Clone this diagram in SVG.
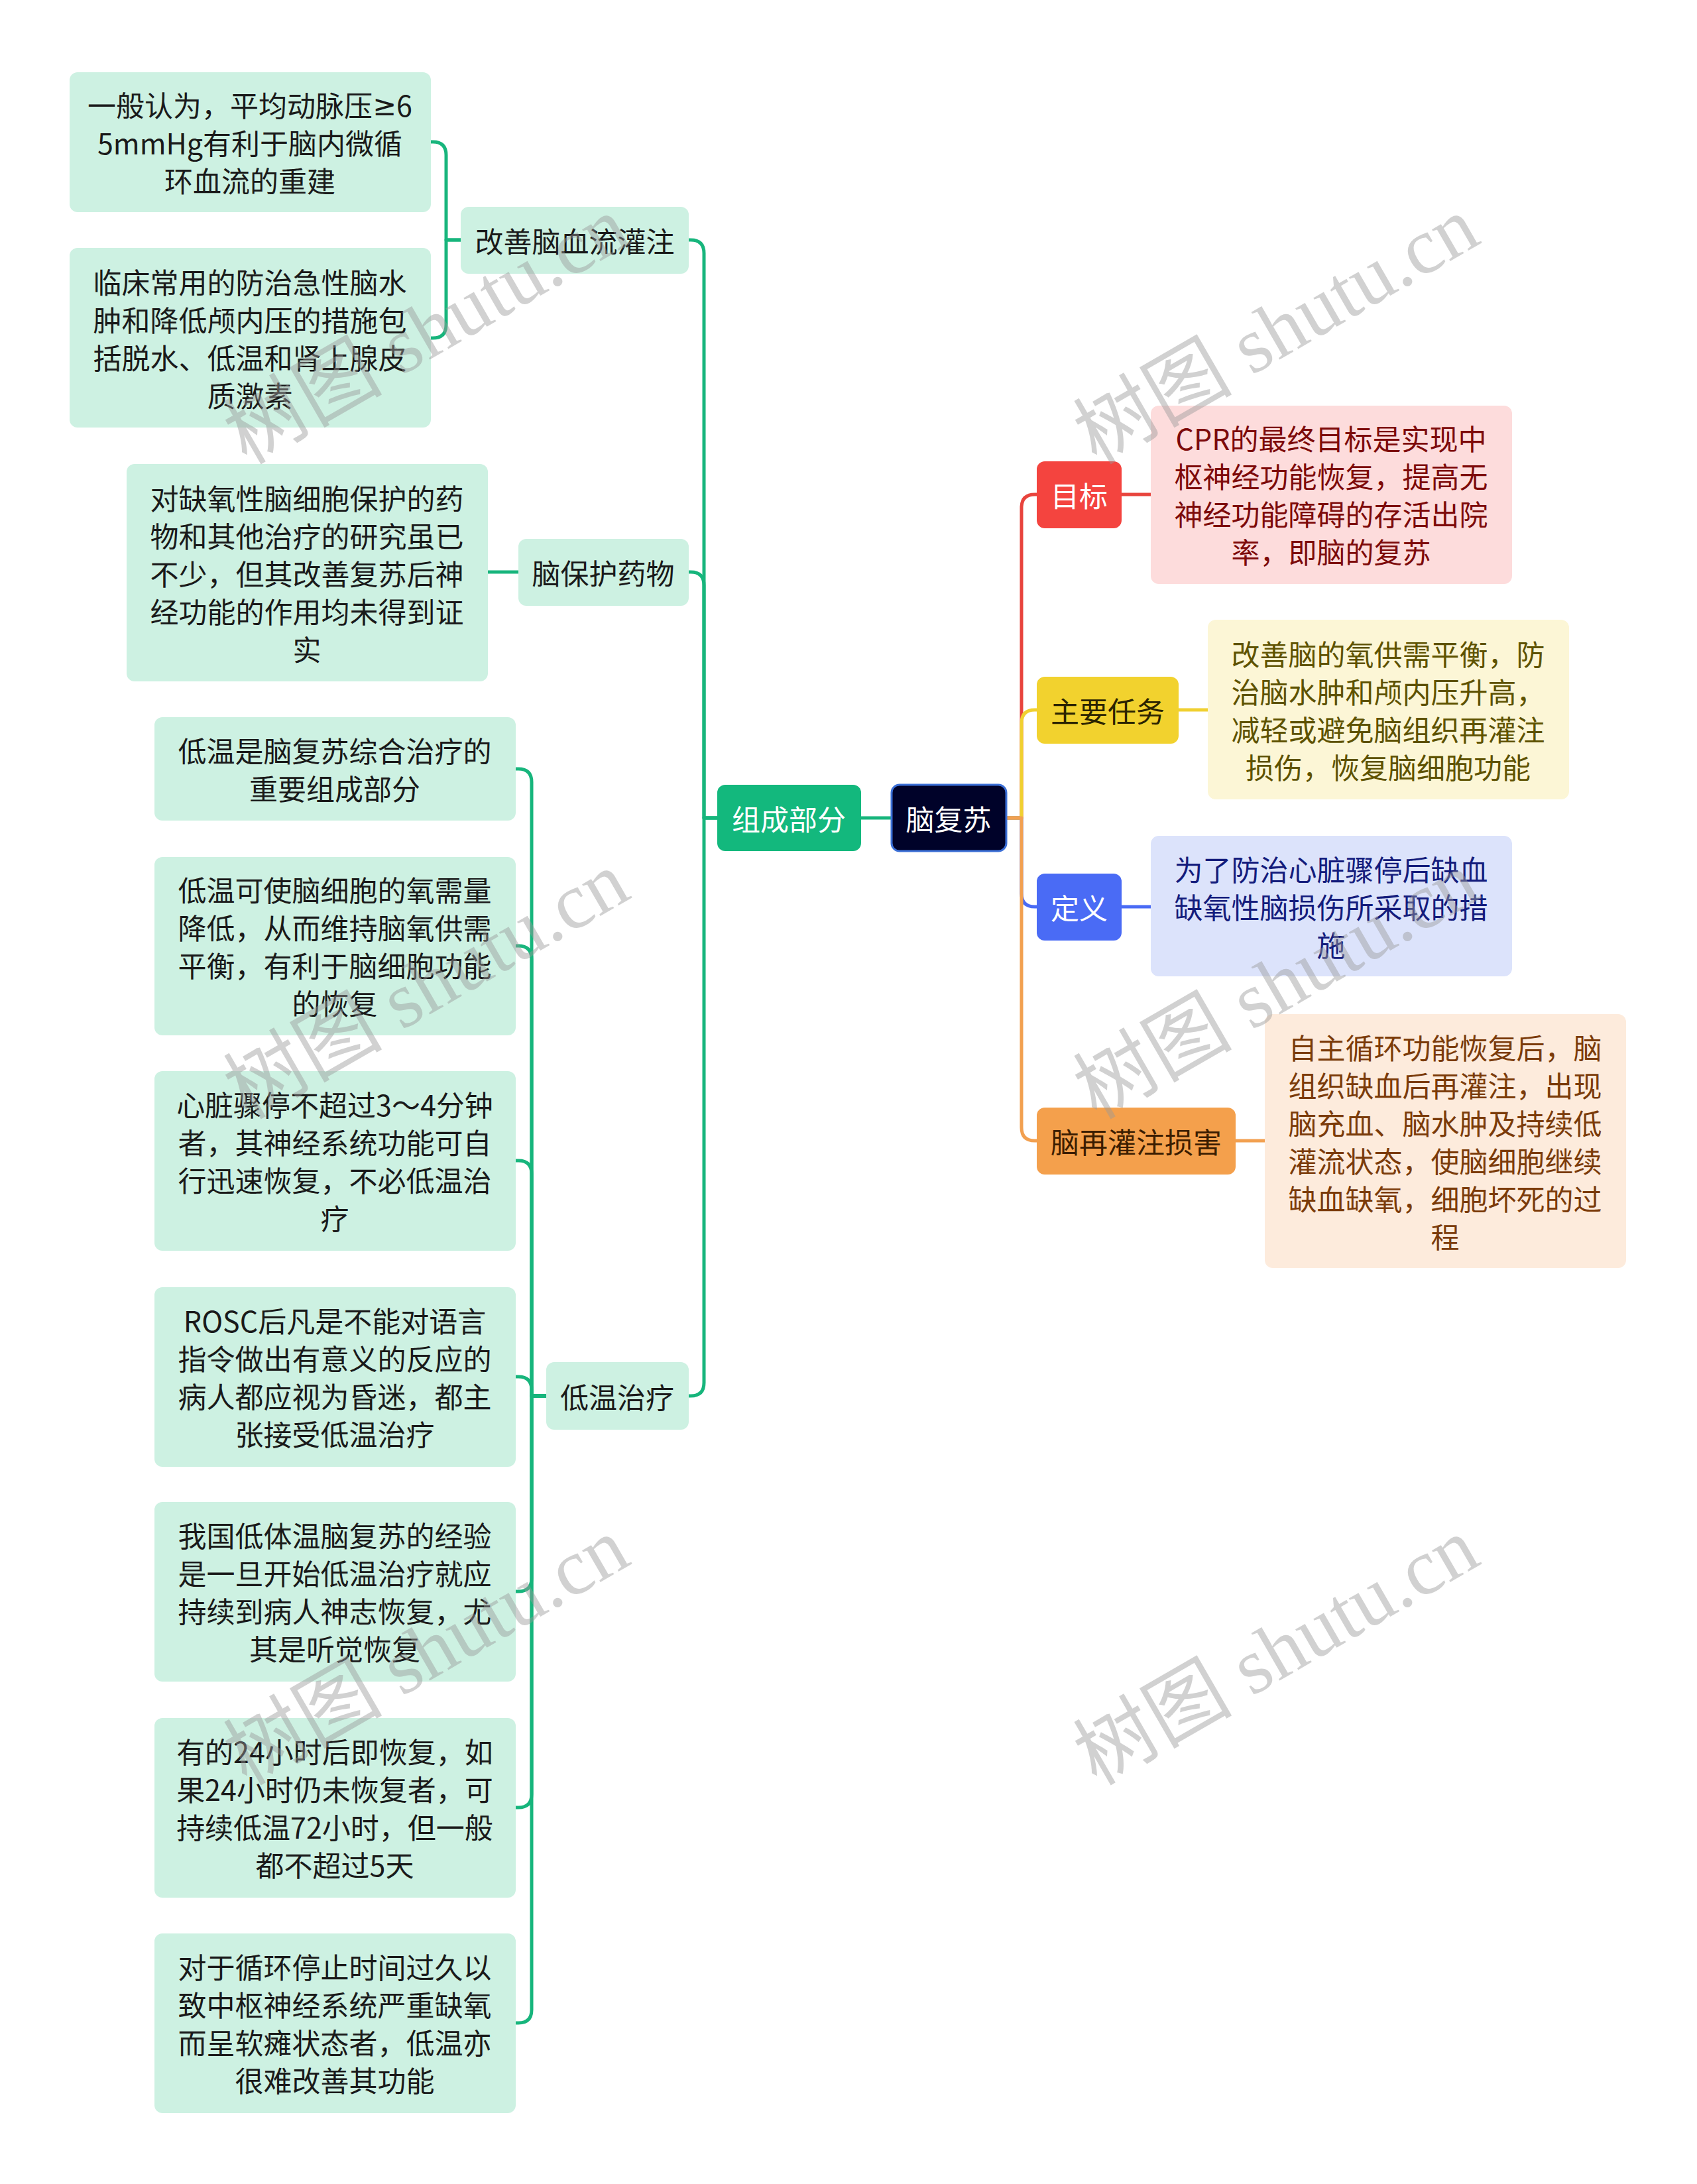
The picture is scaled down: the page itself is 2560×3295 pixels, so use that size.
<svg xmlns="http://www.w3.org/2000/svg" width="2560" height="3295" viewBox="0 0 2560 3295">
<style>
text{font-family:"Noto Sans CJK SC","Noto Sans",sans-serif;font-size:43px;text-anchor:middle;dominant-baseline:central}
.lb{fill:#cdf1e2}
.dk{fill:#1a1a1a}
.wt{fill:#ffffff}
.cn{fill:none;stroke-width:5;stroke-linecap:round;stroke-linejoin:round}
.g{stroke:#17b57c}
.ge{font-family:"Noto Sans","DejaVu Sans",sans-serif}
.wm{font-family:"Liberation Serif","Noto Sans CJK SC",serif;font-size:120px;text-anchor:start;dominant-baseline:alphabetic;fill:#9a9a9a;fill-opacity:0.45}
</style>
<rect width="2560" height="3295" fill="#ffffff"/>
<g id="connectors">
<path class="cn" stroke="#e8443d" d="M1518,1234 H1541 V766 Q1541,746 1561,746 H1564"/>
<path class="cn" stroke="#4a6bf5" d="M1518,1234 H1541 V1348 Q1541,1368 1561,1368 H1564"/>
<path class="cn" stroke="#f0d030" d="M1518,1234 H1541 V1091 Q1541,1071 1561,1071 H1564"/>
<path class="cn" stroke="#f2a050" d="M1518,1234 H1541 V1701 Q1541,1721 1561,1721 H1564"/>
<path class="cn" stroke="#e8443d" d="M1692,746 H1736"/>
<path class="cn" stroke="#f0d030" d="M1778,1071 H1822"/>
<path class="cn" stroke="#4a6bf5" d="M1692,1368 H1736"/>
<path class="cn" stroke="#f2a050" d="M1864,1721 H1908"/>
<path class="cn g" d="M1345,1234 H1299"/>
<path class="cn g" d="M1082,1234 H1062 V382 Q1062,362 1042,362 H1039"/>
<path class="cn g" d="M1082,1234 H1062 V883 Q1062,863 1042,863 H1039"/>
<path class="cn g" d="M1082,1234 H1062 V2086 Q1062,2106 1042,2106 H1039"/>
<path class="cn g" d="M695,362 H673 V234 Q673,214 653,214 H650"/>
<path class="cn g" d="M695,362 H673 V490 Q673,510 653,510 H650"/>
<path class="cn g" d="M782,863 H736"/>
<path class="cn g" d="M824,2106 H802 V1180 Q802,1160 782,1160 H778"/>
<path class="cn g" d="M824,2106 H802 V1447 Q802,1427 782,1427 H778"/>
<path class="cn g" d="M824,2106 H802 V1771 Q802,1751 782,1751 H778"/>
<path class="cn g" d="M824,2106 H802 V2097 Q802,2077 782,2077 H778"/>
<path class="cn g" d="M824,2106 H802 V2381 Q802,2401 782,2401 H778"/>
<path class="cn g" d="M824,2106 H802 V2707 Q802,2727 782,2727 H778"/>
<path class="cn g" d="M824,2106 H802 V3032 Q802,3052 782,3052 H778"/>
</g>
<g id="root">
<rect x="1345" y="1184" width="173" height="100" rx="12" fill="#000229" stroke="#3b6fd6" stroke-width="3"/>
<text x="1431" y="1234" class="wt">脑复苏</text>
</g>
<g id="zucheng">
<rect x="1082" y="1184" width="217" height="100" rx="12" fill="#13b87d"/>
<text x="1190" y="1234" class="wt">组成部分</text>
</g>
<g id="gaishan">
<rect class="lb" x="695" y="312" width="344" height="101" rx="12"/>
<text x="867" y="362" class="dk">改善脑血流灌注</text>
</g>
<g id="naobaohu">
<rect class="lb" x="782" y="813" width="257" height="101" rx="12"/>
<text x="910" y="863" class="dk">脑保护药物</text>
</g>
<g id="diwen">
<rect class="lb" x="824" y="2055" width="215" height="102" rx="12"/>
<text x="931" y="2106" class="dk">低温治疗</text>
</g>
<g id="boxA">
<rect class="lb" x="105" y="109" width="545" height="211" rx="12"/>
<text x="377" class="dk"><tspan x="377" y="157">一般认为，平均动脉压<tspan class="ge">≥</tspan>6</tspan><tspan x="377" y="214">5mmHg有利于脑内微循</tspan><tspan x="377" y="271">环血流的重建</tspan></text>
</g>
<g id="boxB">
<rect class="lb" x="105" y="374" width="545" height="271" rx="12"/>
<text x="377" class="dk"><tspan x="377" y="424">临床常用的防治急性脑水</tspan><tspan x="377" y="481">肿和降低颅内压的措施包</tspan><tspan x="377" y="538">括脱水、低温和肾上腺皮</tspan><tspan x="377" y="595">质激素</tspan></text>
</g>
<g id="boxC">
<rect class="lb" x="191" y="700" width="545" height="328" rx="12"/>
<text x="463" class="dk"><tspan x="463" y="750">对缺氧性脑细胞保护的药</tspan><tspan x="463" y="807">物和其他治疗的研究虽已</tspan><tspan x="463" y="864">不少，但其改善复苏后神</tspan><tspan x="463" y="921">经功能的作用均未得到证</tspan><tspan x="463" y="978">实</tspan></text>
</g>
<g id="h1">
<rect class="lb" x="233" y="1082" width="545" height="156" rx="12"/>
<text class="dk"><tspan x="505" y="1131">低温是脑复苏综合治疗的</tspan><tspan x="505" y="1188">重要组成部分</tspan></text>
</g>
<g id="h2">
<rect class="lb" x="233" y="1293" width="545" height="269" rx="12"/>
<text class="dk"><tspan x="505" y="1341">低温可使脑细胞的氧需量</tspan><tspan x="505" y="1398">降低，从而维持脑氧供需</tspan><tspan x="505" y="1455">平衡，有利于脑细胞功能</tspan><tspan x="505" y="1512">的恢复</tspan></text>
</g>
<g id="h3">
<rect class="lb" x="233" y="1616" width="545" height="271" rx="12"/>
<text class="dk"><tspan x="505" y="1665">心脏骤停不超过3～4分钟</tspan><tspan x="505" y="1722">者，其神经系统功能可自</tspan><tspan x="505" y="1779">行迅速恢复，不必低温治</tspan><tspan x="505" y="1836">疗</tspan></text>
</g>
<g id="h4">
<rect class="lb" x="233" y="1942" width="545" height="271" rx="12"/>
<text class="dk"><tspan x="505" y="1991">ROSC后凡是不能对语言</tspan><tspan x="505" y="2048">指令做出有意义的反应的</tspan><tspan x="505" y="2105">病人都应视为昏迷，都主</tspan><tspan x="505" y="2162">张接受低温治疗</tspan></text>
</g>
<g id="h5">
<rect class="lb" x="233" y="2266" width="545" height="271" rx="12"/>
<text class="dk"><tspan x="505" y="2315">我国低体温脑复苏的经验</tspan><tspan x="505" y="2372">是一旦开始低温治疗就应</tspan><tspan x="505" y="2429">持续到病人神志恢复，尤</tspan><tspan x="505" y="2486">其是听觉恢复</tspan></text>
</g>
<g id="h6">
<rect class="lb" x="233" y="2592" width="545" height="271" rx="12"/>
<text class="dk"><tspan x="505" y="2641">有的24小时后即恢复，如</tspan><tspan x="505" y="2698">果24小时仍未恢复者，可</tspan><tspan x="505" y="2755">持续低温72小时，但一般</tspan><tspan x="505" y="2812">都不超过5天</tspan></text>
</g>
<g id="h7">
<rect class="lb" x="233" y="2917" width="545" height="271" rx="12"/>
<text class="dk"><tspan x="505" y="2966">对于循环停止时间过久以</tspan><tspan x="505" y="3023">致中枢神经系统严重缺氧</tspan><tspan x="505" y="3080">而呈软瘫状态者，低温亦</tspan><tspan x="505" y="3137">很难改善其功能</tspan></text>
</g>
<g id="mubiao">
<rect x="1564" y="696" width="128" height="101" rx="12" fill="#f4443f"/>
<text x="1628" y="746" class="wt">目标</text>
</g>
<g id="mubiao-text">
<rect x="1736" y="612" width="545" height="269" rx="12" fill="#fddcdc"/>
<text fill="#7d0a0a"><tspan x="2008" y="660">CPR的最终目标是实现中</tspan><tspan x="2008" y="717">枢神经功能恢复，提高无</tspan><tspan x="2008" y="774">神经功能障碍的存活出院</tspan><tspan x="2008" y="831">率，即脑的复苏</tspan></text>
</g>
<g id="renwu">
<rect x="1564" y="1021" width="214" height="101" rx="12" fill="#f2d22e"/>
<text x="1671" y="1071" fill="#2b2400">主要任务</text>
</g>
<g id="renwu-text">
<rect x="1822" y="935" width="545" height="271" rx="12" fill="#fcf6d6"/>
<text fill="#5e5200"><tspan x="2094" y="985">改善脑的氧供需平衡，防</tspan><tspan x="2094" y="1042">治脑水肿和颅内压升高，</tspan><tspan x="2094" y="1099">减轻或避免脑组织再灌注</tspan><tspan x="2094" y="1156">损伤，恢复脑细胞功能</tspan></text>
</g>
<g id="dingyi">
<rect x="1564" y="1318" width="128" height="101" rx="12" fill="#4a6bf5"/>
<text x="1628" y="1368" class="wt">定义</text>
</g>
<g id="dingyi-text">
<rect x="1736" y="1261" width="545" height="212" rx="12" fill="#dce3fb"/>
<text fill="#141c7c"><tspan x="2008" y="1310">为了防治心脏骤停后缺血</tspan><tspan x="2008" y="1367">缺氧性脑损伤所采取的措</tspan><tspan x="2008" y="1424">施</tspan></text>
</g>
<g id="zaiguanzhu">
<rect x="1564" y="1671" width="300" height="101" rx="12" fill="#f4a04c"/>
<text x="1714" y="1721" fill="#3b1d00">脑再灌注损害</text>
</g>
<g id="zaiguanzhu-text">
<rect x="1908" y="1530" width="545" height="383" rx="12" fill="#fdebdc"/>
<text fill="#7b3b0a"><tspan x="2180" y="1579">自主循环功能恢复后，脑</tspan><tspan x="2180" y="1636">组织缺血后再灌注，出现</tspan><tspan x="2180" y="1693">脑充血、脑水肿及持续低</tspan><tspan x="2180" y="1750">灌流状态，使脑细胞继续</tspan><tspan x="2180" y="1807">缺血缺氧，细胞坏死的过</tspan><tspan x="2180" y="1864">程</tspan></text>
</g>
<g id="watermarks">
<text class="wm" transform="translate(372,702) rotate(-30)">树图 shutu.cn</text>
<text class="wm" transform="translate(1654,702) rotate(-30)">树图 shutu.cn</text>
<text class="wm" transform="translate(372,1690) rotate(-30)">树图 shutu.cn</text>
<text class="wm" transform="translate(1654,1690) rotate(-30)">树图 shutu.cn</text>
<text class="wm" transform="translate(372,2695) rotate(-30)">树图 shutu.cn</text>
<text class="wm" transform="translate(1654,2695) rotate(-30)">树图 shutu.cn</text>
</g>
</svg>
